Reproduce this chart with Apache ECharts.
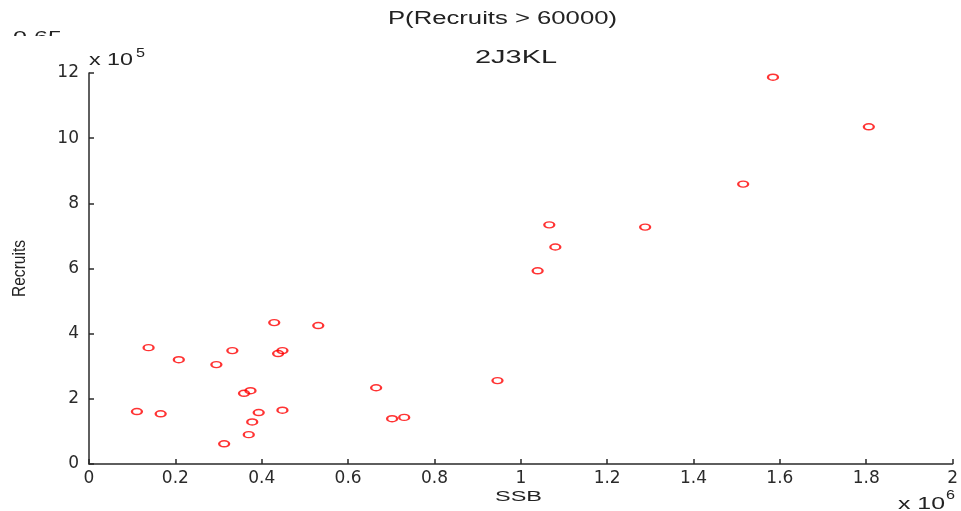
<!DOCTYPE html>
<html>
<head>
<meta charset="utf-8">
<script src="https://cdn.jsdelivr.net/npm/echarts@6/dist/echarts.min.js"></script>
<style>html,body{margin:0;padding:0;background:#fff}#c{width:961px;height:511px}</style>
</head>
<body>
<div id="c"></div>
<script>
// SSB in units of 10^6, Recruits in units of 10^5
const ssb = [0.111, 0.166, 0.138, 0.208, 0.295, 0.332, 0.313, 0.359, 0.374, 0.370, 0.378, 0.393, 0.429, 0.438, 0.448, 0.448, 0.531, 0.665, 0.702, 0.730, 0.946, 1.039, 1.066, 1.080, 1.288, 1.515, 1.584, 1.806];
const recruits = [1.61, 1.54, 3.57, 3.20, 3.05, 3.48, 0.62, 2.17, 2.25, 0.90, 1.29, 1.58, 4.34, 3.39, 3.48, 1.65, 4.25, 2.34, 1.39, 1.43, 2.56, 5.93, 7.34, 6.66, 7.27, 8.59, 11.87, 10.35];
const xTicks = [0, 0.2, 0.4, 0.6, 0.8, 1, 1.2, 1.4, 1.6, 1.8, 2];
const yTicks = [0, 2, 4, 6, 8, 10, 12];
const titleText = 'P(Recruits > 60000)';
const subText = '2J3KL';
const xName = 'SSB';
const yName = 'Recruits';
const clippedText = '0.65';

const points = ssb.map((v, i) => [v, recruits[i]]);
const font = 'Liberation Sans, Arial, sans-serif';
const tickFont = 'DejaVu Sans, Liberation Sans, sans-serif';
const mctx = document.createElement('canvas').getContext('2d');
function sx(text, size, target) {
  mctx.font = size + 'px ' + font;
  return target / mctx.measureText(text).width;
}
function txt(text, size, left, right, cy, extra) {
  const w = right - left;
  return Object.assign({
    type: 'text', z: 10, x: left, y: cy, scaleX: sx(text, size, w),
    style: { text: text, font: size + 'px ' + font, fill: '#222', align: 'left', verticalAlign: 'middle' }
  }, extra || {});
}
const chart = echarts.init(document.getElementById('c'));
chart.setOption({
  animation: false,
  backgroundColor: '#fff',
  grid: { left: 89, right: 5, top: 73, bottom: 47, containLabel: false },
  xAxis: {
    type: 'value', min: xTicks[0], max: xTicks[xTicks.length - 1], interval: 0.2,
    axisLine: { show: true, lineStyle: { color: '#2a2a2a', width: 1.5 } },
    axisTick: { show: true, inside: true, length: 5, lineStyle: { color: '#2a2a2a', width: 1.5 } },
    axisLabel: { color: '#2a2a2a', fontFamily: tickFont, fontSize: 17, margin: 6,
      formatter: v => String(Math.round(v * 10) / 10) },
    splitLine: { show: false }
  },
  yAxis: {
    type: 'value', min: yTicks[0], max: yTicks[yTicks.length - 1], interval: 2,
    axisLine: { show: true, lineStyle: { color: '#2a2a2a', width: 1.5 } },
    axisTick: { show: true, inside: true, length: 5, lineStyle: { color: '#2a2a2a', width: 1.5 } },
    axisLabel: { color: '#2a2a2a', fontFamily: tickFont, fontSize: 17, margin: 10 },
    splitLine: { show: false }
  },
  graphic: [
    txt(clippedText, 17, 13, 62, 38),
    { type: 'rect', z: 11, shape: { x: 0, y: 36, width: 85, height: 16 }, style: { fill: '#fff' } },
    txt(titleText, 18, 388, 617, 19.5),
    txt(subText, 18, 475, 557, 58),
    txt('x 10', 16, 89, 133, 61),
    txt('5', 13, 136, 145, 53),
    txt('x 10', 16, 898, 945, 505),
    txt('6', 13, 946, 955, 495),
    txt(xName, 15, 495, 542, 497),
    { type: 'text', z: 10, x: 20, y: 268.5, rotation: Math.PI / 2, scaleX: sx(yName, 18, 57),
      style: { text: yName, font: '18px ' + font, fill: '#222', align: 'center', verticalAlign: 'middle' } }
  ],
  series: [{
    type: 'scatter',
    data: points,
    symbol: 'circle',
    symbolSize: [10, 6],
    itemStyle: { color: 'rgba(255,255,255,0)', borderColor: '#ff0000', borderWidth: 1.8 },
    emphasis: { disabled: true }
  }]
});
</script>
</body>
</html>
